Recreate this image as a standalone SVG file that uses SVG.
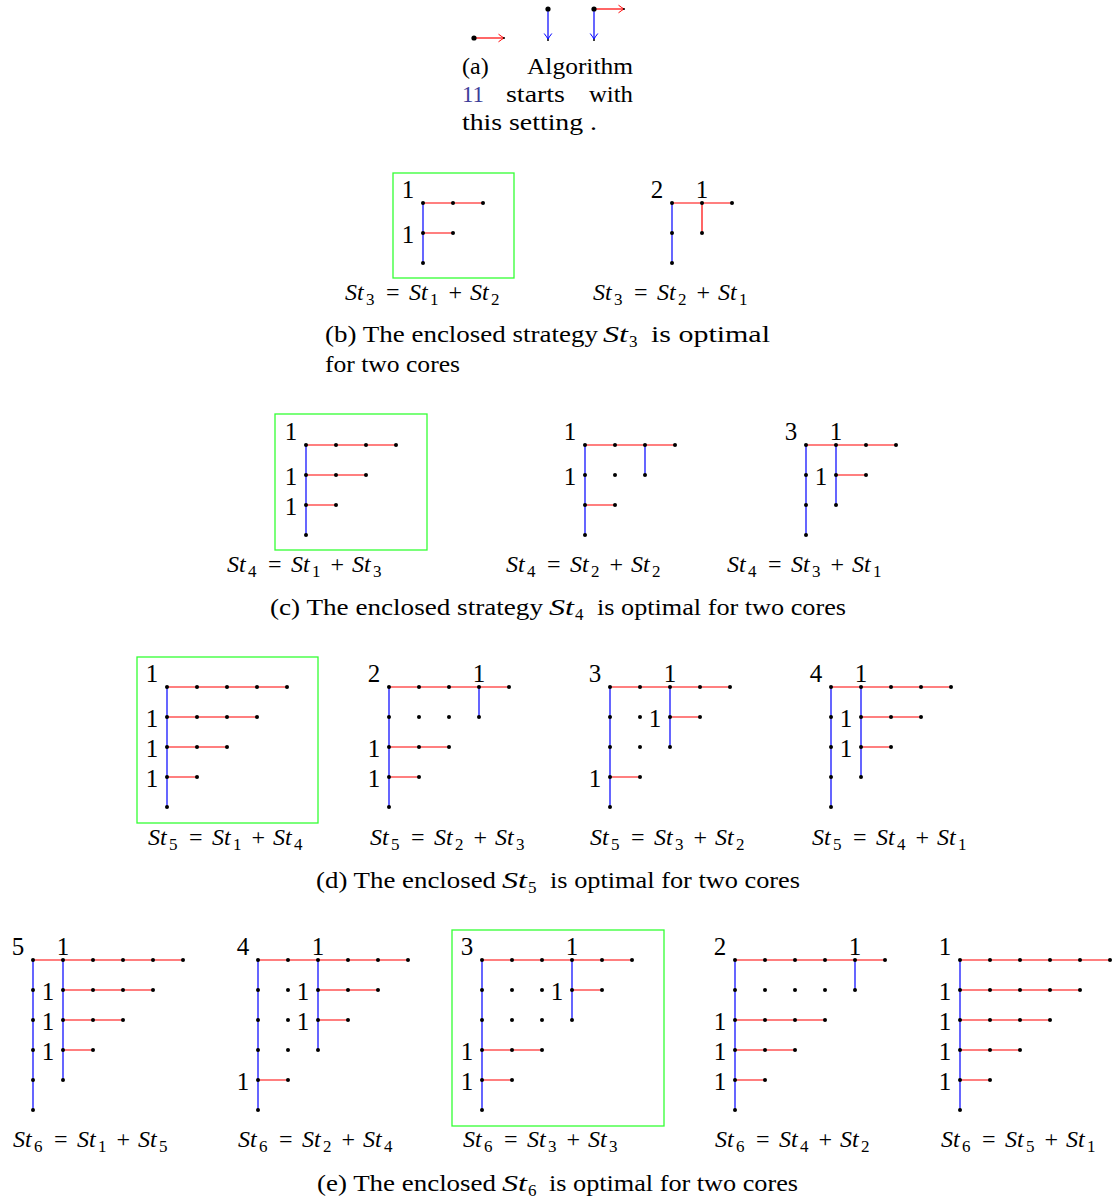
<svg xmlns="http://www.w3.org/2000/svg" width="1120" height="1200" viewBox="0 0 1120 1200" font-family="'Liberation Serif', 'Times New Roman', Tinos, 'DejaVu Serif', serif">
<style>
text{font-family:'Liberation Serif','Times New Roman',Tinos,'DejaVu Serif',serif}
.t{font-size:24px;fill:#000}
.i{font-style:italic}
.s{font-size:17px}
.l{font-size:25px;text-anchor:middle;fill:#000}
.r{stroke:#f00;stroke-width:1.2;fill:none}
.b{stroke:#00f;stroke-width:1.2;fill:none}
.g{stroke:#3f3;stroke-width:1.3;fill:none}
.d circle{fill:#000}
</style>
<defs>
<marker id="ar" markerUnits="userSpaceOnUse" markerWidth="12" markerHeight="12" refX="0" refY="0" viewBox="-7 -6 8 12" orient="auto"><path d="M-5.5-3.8Q-1.5-0.8 0 0Q-1.5 0.8-5.5 3.8" fill="none" stroke="#f00" stroke-width="1"/></marker>
<marker id="ab" markerUnits="userSpaceOnUse" markerWidth="12" markerHeight="12" refX="0" refY="0" viewBox="-7 -6 8 12" orient="auto"><path d="M-5.5-3.8Q-1.5-0.8 0 0Q-1.5 0.8-5.5 3.8" fill="none" stroke="#00f" stroke-width="1"/></marker>
</defs>
<rect width="1120" height="1200" fill="#fff"/>

<!-- (a) -->
<g id="fig-a">
<g id="a-connectors">
<path class="r" d="M474 38H504" marker-end="url(#ar)" stroke-width="1"/>
<path class="b" d="M548 9V39" marker-end="url(#ab)" stroke-width="1"/>
<path class="b" d="M594 9V39" marker-end="url(#ab)" stroke-width="1"/>
<path class="r" d="M594 9H624" marker-end="url(#ar)" stroke-width="1"/>
</g>
<g class="d">
<circle cx="474" cy="38" r="2.6"/><circle cx="548" cy="9" r="2.6"/><circle cx="594" cy="9" r="2.6"/>
<circle cx="504" cy="38" r="1"/><circle cx="548" cy="40" r="1"/><circle cx="594" cy="40" r="1"/><circle cx="624" cy="9" r="1"/>
</g>
<text class="t" x="462" y="74">(a)</text>
<text class="t" x="527" y="74" textLength="106" lengthAdjust="spacingAndGlyphs">Algorithm</text>
<text class="t" x="462" y="102" style="fill:#3d3d99" textLength="22" lengthAdjust="spacingAndGlyphs">11</text>
<text class="t" x="506" y="102" textLength="59" lengthAdjust="spacingAndGlyphs">starts</text>
<text class="t" x="589" y="102" textLength="44" lengthAdjust="spacingAndGlyphs">with</text>
<text class="t" x="462" y="130" textLength="135" lengthAdjust="spacingAndGlyphs">this setting .</text>
</g>

<!-- (b) -->
<g id="fig-b1">
<rect class="g" x="393" y="173" width="121" height="105"/>
<g class="connectors"><path class="b" d="M423 203V263"/><path class="r" d="M423 203H483M423 233H453"/></g>
<g class="d"><circle cx="423" cy="203" r="2"/><circle cx="453" cy="203" r="2"/><circle cx="483" cy="203" r="2"/><circle cx="423" cy="233" r="2"/><circle cx="453" cy="233" r="2"/><circle cx="423" cy="263" r="2"/></g>
<text class="l" x="408" y="198">1</text><text class="l" x="408" y="243">1</text>
<text class="t" y="300"><tspan class="i" x="345">St</tspan><tspan class="s" x="366" dy="5">3</tspan><tspan x="386" dy="-5">=</tspan><tspan class="i" x="409">St</tspan><tspan class="s" x="430" dy="5">1</tspan><tspan x="448.6" dy="-5">+</tspan><tspan class="i" x="470">St</tspan><tspan class="s" x="491" dy="5">2</tspan></text>
</g>
<g id="fig-b2">
<g class="connectors"><path class="b" d="M672 203V263"/><path class="r" d="M672 203H732M702 203V233"/></g>
<g class="d"><circle cx="672" cy="203" r="2"/><circle cx="702" cy="203" r="2"/><circle cx="732" cy="203" r="2"/><circle cx="672" cy="233" r="2"/><circle cx="702" cy="233" r="2"/><circle cx="672" cy="263" r="2"/></g>
<text class="l" x="657" y="198">2</text><text class="l" x="702" y="198">1</text>
<text class="t" y="300"><tspan class="i" x="593">St</tspan><tspan class="s" x="614" dy="5">3</tspan><tspan x="634" dy="-5">=</tspan><tspan class="i" x="657">St</tspan><tspan class="s" x="678" dy="5">2</tspan><tspan x="696.6" dy="-5">+</tspan><tspan class="i" x="718">St</tspan><tspan class="s" x="739" dy="5">1</tspan></text>
</g>
<g id="caption-b">
<text class="t" x="325" y="342" textLength="273" lengthAdjust="spacingAndGlyphs">(b) The enclosed strategy</text>
<text class="t i" x="603" y="342" textLength="25" lengthAdjust="spacingAndGlyphs">St</text><text class="t s" x="629" y="347">3</text>
<text class="t" x="651" y="342" textLength="119" lengthAdjust="spacingAndGlyphs">is optimal</text>
<text class="t" x="325" y="372" textLength="135" lengthAdjust="spacingAndGlyphs">for two cores</text>
</g>

<!-- (c) -->
<g id="fig-c1">
<rect class="g" x="275" y="414" width="152" height="136"/>
<g class="connectors"><path class="b" d="M306 445V535"/><path class="r" d="M306 445H396M306 475H366M306 505H336"/></g>
<g class="d"><circle cx="306" cy="445" r="2"/><circle cx="336" cy="445" r="2"/><circle cx="366" cy="445" r="2"/><circle cx="396" cy="445" r="2"/><circle cx="306" cy="475" r="2"/><circle cx="336" cy="475" r="2"/><circle cx="366" cy="475" r="2"/><circle cx="306" cy="505" r="2"/><circle cx="336" cy="505" r="2"/><circle cx="306" cy="535" r="2"/></g>
<text class="l" x="291" y="440">1</text><text class="l" x="291" y="485">1</text><text class="l" x="291" y="515">1</text>
<text class="t" y="572"><tspan class="i" x="227">St</tspan><tspan class="s" x="248" dy="5">4</tspan><tspan x="268" dy="-5">=</tspan><tspan class="i" x="291">St</tspan><tspan class="s" x="312" dy="5">1</tspan><tspan x="330.6" dy="-5">+</tspan><tspan class="i" x="352">St</tspan><tspan class="s" x="373" dy="5">3</tspan></text>
</g>
<g id="fig-c2">
<g class="connectors"><path class="b" d="M585 445V535M645 445V475"/><path class="r" d="M585 445H675M585 505H615"/></g>
<g class="d"><circle cx="585" cy="445" r="2"/><circle cx="615" cy="445" r="2"/><circle cx="645" cy="445" r="2"/><circle cx="675" cy="445" r="2"/><circle cx="585" cy="475" r="2"/><circle cx="615" cy="475" r="2"/><circle cx="645" cy="475" r="2"/><circle cx="585" cy="505" r="2"/><circle cx="615" cy="505" r="2"/><circle cx="585" cy="535" r="2"/></g>
<text class="l" x="570" y="440">1</text><text class="l" x="570" y="485">1</text>
<text class="t" y="572"><tspan class="i" x="506">St</tspan><tspan class="s" x="527" dy="5">4</tspan><tspan x="547" dy="-5">=</tspan><tspan class="i" x="570">St</tspan><tspan class="s" x="591" dy="5">2</tspan><tspan x="609.6" dy="-5">+</tspan><tspan class="i" x="631">St</tspan><tspan class="s" x="652" dy="5">2</tspan></text>
</g>
<g id="fig-c3">
<g class="connectors"><path class="b" d="M806 445V535M836 445V505"/><path class="r" d="M806 445H896M836 475H866"/></g>
<g class="d"><circle cx="806" cy="445" r="2"/><circle cx="836" cy="445" r="2"/><circle cx="866" cy="445" r="2"/><circle cx="896" cy="445" r="2"/><circle cx="806" cy="475" r="2"/><circle cx="836" cy="475" r="2"/><circle cx="866" cy="475" r="2"/><circle cx="806" cy="505" r="2"/><circle cx="836" cy="505" r="2"/><circle cx="806" cy="535" r="2"/></g>
<text class="l" x="791" y="440">3</text><text class="l" x="836" y="440">1</text><text class="l" x="821" y="485">1</text>
<text class="t" y="572"><tspan class="i" x="727">St</tspan><tspan class="s" x="748" dy="5">4</tspan><tspan x="768" dy="-5">=</tspan><tspan class="i" x="791">St</tspan><tspan class="s" x="812" dy="5">3</tspan><tspan x="830.6" dy="-5">+</tspan><tspan class="i" x="852">St</tspan><tspan class="s" x="873" dy="5">1</tspan></text>
</g>
<g id="caption-c">
<text class="t" x="270" y="615" textLength="273" lengthAdjust="spacingAndGlyphs">(c) The enclosed strategy</text>
<text class="t i" x="549" y="615" textLength="25" lengthAdjust="spacingAndGlyphs">St</text><text class="t s" x="575" y="620">4</text>
<text class="t" x="597" y="615" textLength="249" lengthAdjust="spacingAndGlyphs">is optimal for two cores</text>
</g>

<!-- (d) -->
<g id="fig-d1">
<rect class="g" x="137" y="657" width="181" height="166"/>
<g class="connectors"><path class="b" d="M167 687V807"/><path class="r" d="M167 687H287M167 717H257M167 747H227M167 777H197"/></g>
<g class="d"><circle cx="167" cy="687" r="2"/><circle cx="197" cy="687" r="2"/><circle cx="227" cy="687" r="2"/><circle cx="257" cy="687" r="2"/><circle cx="287" cy="687" r="2"/><circle cx="167" cy="717" r="2"/><circle cx="197" cy="717" r="2"/><circle cx="227" cy="717" r="2"/><circle cx="257" cy="717" r="2"/><circle cx="167" cy="747" r="2"/><circle cx="197" cy="747" r="2"/><circle cx="227" cy="747" r="2"/><circle cx="167" cy="777" r="2"/><circle cx="197" cy="777" r="2"/><circle cx="167" cy="807" r="2"/></g>
<text class="l" x="152" y="682">1</text><text class="l" x="152" y="727">1</text><text class="l" x="152" y="757">1</text><text class="l" x="152" y="787">1</text>
<text class="t" y="845"><tspan class="i" x="148">St</tspan><tspan class="s" x="169" dy="5">5</tspan><tspan x="189" dy="-5">=</tspan><tspan class="i" x="212">St</tspan><tspan class="s" x="233" dy="5">1</tspan><tspan x="251.6" dy="-5">+</tspan><tspan class="i" x="273">St</tspan><tspan class="s" x="294" dy="5">4</tspan></text>
</g>
<g id="fig-d2">
<g class="connectors"><path class="b" d="M389 687V807M479 687V717"/><path class="r" d="M389 687H509M389 747H449M389 777H419"/></g>
<g class="d"><circle cx="389" cy="687" r="2"/><circle cx="419" cy="687" r="2"/><circle cx="449" cy="687" r="2"/><circle cx="479" cy="687" r="2"/><circle cx="509" cy="687" r="2"/><circle cx="389" cy="717" r="2"/><circle cx="419" cy="717" r="2"/><circle cx="449" cy="717" r="2"/><circle cx="479" cy="717" r="2"/><circle cx="389" cy="747" r="2"/><circle cx="419" cy="747" r="2"/><circle cx="449" cy="747" r="2"/><circle cx="389" cy="777" r="2"/><circle cx="419" cy="777" r="2"/><circle cx="389" cy="807" r="2"/></g>
<text class="l" x="374" y="682">2</text><text class="l" x="479" y="682">1</text><text class="l" x="374" y="757">1</text><text class="l" x="374" y="787">1</text>
<text class="t" y="845"><tspan class="i" x="370">St</tspan><tspan class="s" x="391" dy="5">5</tspan><tspan x="411" dy="-5">=</tspan><tspan class="i" x="434">St</tspan><tspan class="s" x="455" dy="5">2</tspan><tspan x="473.6" dy="-5">+</tspan><tspan class="i" x="495">St</tspan><tspan class="s" x="516" dy="5">3</tspan></text>
</g>
<g id="fig-d3">
<g class="connectors"><path class="b" d="M610 687V807M670 687V747"/><path class="r" d="M610 687H730M670 717H700M610 777H640"/></g>
<g class="d"><circle cx="610" cy="687" r="2"/><circle cx="640" cy="687" r="2"/><circle cx="670" cy="687" r="2"/><circle cx="700" cy="687" r="2"/><circle cx="730" cy="687" r="2"/><circle cx="610" cy="717" r="2"/><circle cx="640" cy="717" r="2"/><circle cx="670" cy="717" r="2"/><circle cx="700" cy="717" r="2"/><circle cx="610" cy="747" r="2"/><circle cx="640" cy="747" r="2"/><circle cx="670" cy="747" r="2"/><circle cx="610" cy="777" r="2"/><circle cx="640" cy="777" r="2"/><circle cx="610" cy="807" r="2"/></g>
<text class="l" x="595" y="682">3</text><text class="l" x="670" y="682">1</text><text class="l" x="655" y="727">1</text><text class="l" x="595" y="787">1</text>
<text class="t" y="845"><tspan class="i" x="590">St</tspan><tspan class="s" x="611" dy="5">5</tspan><tspan x="631" dy="-5">=</tspan><tspan class="i" x="654">St</tspan><tspan class="s" x="675" dy="5">3</tspan><tspan x="693.6" dy="-5">+</tspan><tspan class="i" x="715">St</tspan><tspan class="s" x="736" dy="5">2</tspan></text>
</g>
<g id="fig-d4">
<g class="connectors"><path class="b" d="M831 687V807M861 687V777"/><path class="r" d="M831 687H951M861 717H921M861 747H891"/></g>
<g class="d"><circle cx="831" cy="687" r="2"/><circle cx="861" cy="687" r="2"/><circle cx="891" cy="687" r="2"/><circle cx="921" cy="687" r="2"/><circle cx="951" cy="687" r="2"/><circle cx="831" cy="717" r="2"/><circle cx="861" cy="717" r="2"/><circle cx="891" cy="717" r="2"/><circle cx="921" cy="717" r="2"/><circle cx="831" cy="747" r="2"/><circle cx="861" cy="747" r="2"/><circle cx="891" cy="747" r="2"/><circle cx="831" cy="777" r="2"/><circle cx="861" cy="777" r="2"/><circle cx="831" cy="807" r="2"/></g>
<text class="l" x="816" y="682">4</text><text class="l" x="861" y="682">1</text><text class="l" x="846" y="727">1</text><text class="l" x="846" y="757">1</text>
<text class="t" y="845"><tspan class="i" x="812">St</tspan><tspan class="s" x="833" dy="5">5</tspan><tspan x="853" dy="-5">=</tspan><tspan class="i" x="876">St</tspan><tspan class="s" x="897" dy="5">4</tspan><tspan x="915.6" dy="-5">+</tspan><tspan class="i" x="937">St</tspan><tspan class="s" x="958" dy="5">1</tspan></text>
</g>
<g id="caption-d">
<text class="t" x="316" y="888" textLength="180" lengthAdjust="spacingAndGlyphs">(d) The enclosed</text>
<text class="t i" x="502" y="888" textLength="25" lengthAdjust="spacingAndGlyphs">St</text><text class="t s" x="528" y="893">5</text>
<text class="t" x="550" y="888" textLength="250" lengthAdjust="spacingAndGlyphs">is optimal for two cores</text>
</g>

<!-- (e) -->
<g id="fig-e1">
<g class="connectors"><path class="b" d="M33 960V1110M63 960V1080"/><path class="r" d="M33 960H183M63 990H153M63 1020H123M63 1050H93"/></g>
<g class="d"><circle cx="33" cy="960" r="2"/><circle cx="63" cy="960" r="2"/><circle cx="93" cy="960" r="2"/><circle cx="123" cy="960" r="2"/><circle cx="153" cy="960" r="2"/><circle cx="183" cy="960" r="2"/><circle cx="33" cy="990" r="2"/><circle cx="63" cy="990" r="2"/><circle cx="93" cy="990" r="2"/><circle cx="123" cy="990" r="2"/><circle cx="153" cy="990" r="2"/><circle cx="33" cy="1020" r="2"/><circle cx="63" cy="1020" r="2"/><circle cx="93" cy="1020" r="2"/><circle cx="123" cy="1020" r="2"/><circle cx="33" cy="1050" r="2"/><circle cx="63" cy="1050" r="2"/><circle cx="93" cy="1050" r="2"/><circle cx="33" cy="1080" r="2"/><circle cx="63" cy="1080" r="2"/><circle cx="33" cy="1110" r="2"/></g>
<text class="l" x="18" y="955">5</text><text class="l" x="63" y="955">1</text><text class="l" x="48" y="1000">1</text><text class="l" x="48" y="1030">1</text><text class="l" x="48" y="1060">1</text>
<text class="t" y="1147"><tspan class="i" x="13">St</tspan><tspan class="s" x="34" dy="5">6</tspan><tspan x="54" dy="-5">=</tspan><tspan class="i" x="77">St</tspan><tspan class="s" x="98" dy="5">1</tspan><tspan x="116.6" dy="-5">+</tspan><tspan class="i" x="138">St</tspan><tspan class="s" x="159" dy="5">5</tspan></text>
</g>
<g id="fig-e2">
<g class="connectors"><path class="b" d="M258 960V1110M318 960V1050"/><path class="r" d="M258 960H408M318 990H378M318 1020H348M258 1080H288"/></g>
<g class="d"><circle cx="258" cy="960" r="2"/><circle cx="288" cy="960" r="2"/><circle cx="318" cy="960" r="2"/><circle cx="348" cy="960" r="2"/><circle cx="378" cy="960" r="2"/><circle cx="408" cy="960" r="2"/><circle cx="258" cy="990" r="2"/><circle cx="288" cy="990" r="2"/><circle cx="318" cy="990" r="2"/><circle cx="348" cy="990" r="2"/><circle cx="378" cy="990" r="2"/><circle cx="258" cy="1020" r="2"/><circle cx="288" cy="1020" r="2"/><circle cx="318" cy="1020" r="2"/><circle cx="348" cy="1020" r="2"/><circle cx="258" cy="1050" r="2"/><circle cx="288" cy="1050" r="2"/><circle cx="318" cy="1050" r="2"/><circle cx="258" cy="1080" r="2"/><circle cx="288" cy="1080" r="2"/><circle cx="258" cy="1110" r="2"/></g>
<text class="l" x="243" y="955">4</text><text class="l" x="318" y="955">1</text><text class="l" x="303" y="1000">1</text><text class="l" x="303" y="1030">1</text><text class="l" x="243" y="1090">1</text>
<text class="t" y="1147"><tspan class="i" x="238">St</tspan><tspan class="s" x="259" dy="5">6</tspan><tspan x="279" dy="-5">=</tspan><tspan class="i" x="302">St</tspan><tspan class="s" x="323" dy="5">2</tspan><tspan x="341.6" dy="-5">+</tspan><tspan class="i" x="363">St</tspan><tspan class="s" x="384" dy="5">4</tspan></text>
</g>
<g id="fig-e3">
<rect class="g" x="452" y="930" width="212" height="196"/>
<g class="connectors"><path class="b" d="M482 960V1110M572 960V1020"/><path class="r" d="M482 960H632M572 990H602M482 1050H542M482 1080H512"/></g>
<g class="d"><circle cx="482" cy="960" r="2"/><circle cx="512" cy="960" r="2"/><circle cx="542" cy="960" r="2"/><circle cx="572" cy="960" r="2"/><circle cx="602" cy="960" r="2"/><circle cx="632" cy="960" r="2"/><circle cx="482" cy="990" r="2"/><circle cx="512" cy="990" r="2"/><circle cx="542" cy="990" r="2"/><circle cx="572" cy="990" r="2"/><circle cx="602" cy="990" r="2"/><circle cx="482" cy="1020" r="2"/><circle cx="512" cy="1020" r="2"/><circle cx="542" cy="1020" r="2"/><circle cx="572" cy="1020" r="2"/><circle cx="482" cy="1050" r="2"/><circle cx="512" cy="1050" r="2"/><circle cx="542" cy="1050" r="2"/><circle cx="482" cy="1080" r="2"/><circle cx="512" cy="1080" r="2"/><circle cx="482" cy="1110" r="2"/></g>
<text class="l" x="467" y="955">3</text><text class="l" x="572" y="955">1</text><text class="l" x="557" y="1000">1</text><text class="l" x="467" y="1060">1</text><text class="l" x="467" y="1090">1</text>
<text class="t" y="1147"><tspan class="i" x="463">St</tspan><tspan class="s" x="484" dy="5">6</tspan><tspan x="504" dy="-5">=</tspan><tspan class="i" x="527">St</tspan><tspan class="s" x="548" dy="5">3</tspan><tspan x="566.6" dy="-5">+</tspan><tspan class="i" x="588">St</tspan><tspan class="s" x="609" dy="5">3</tspan></text>
</g>
<g id="fig-e4">
<g class="connectors"><path class="b" d="M735 960V1110M855 960V990"/><path class="r" d="M735 960H885M735 1020H825M735 1050H795M735 1080H765"/></g>
<g class="d"><circle cx="735" cy="960" r="2"/><circle cx="765" cy="960" r="2"/><circle cx="795" cy="960" r="2"/><circle cx="825" cy="960" r="2"/><circle cx="855" cy="960" r="2"/><circle cx="885" cy="960" r="2"/><circle cx="735" cy="990" r="2"/><circle cx="765" cy="990" r="2"/><circle cx="795" cy="990" r="2"/><circle cx="825" cy="990" r="2"/><circle cx="855" cy="990" r="2"/><circle cx="735" cy="1020" r="2"/><circle cx="765" cy="1020" r="2"/><circle cx="795" cy="1020" r="2"/><circle cx="825" cy="1020" r="2"/><circle cx="735" cy="1050" r="2"/><circle cx="765" cy="1050" r="2"/><circle cx="795" cy="1050" r="2"/><circle cx="735" cy="1080" r="2"/><circle cx="765" cy="1080" r="2"/><circle cx="735" cy="1110" r="2"/></g>
<text class="l" x="720" y="955">2</text><text class="l" x="855" y="955">1</text><text class="l" x="720" y="1030">1</text><text class="l" x="720" y="1060">1</text><text class="l" x="720" y="1090">1</text>
<text class="t" y="1147"><tspan class="i" x="715">St</tspan><tspan class="s" x="736" dy="5">6</tspan><tspan x="756" dy="-5">=</tspan><tspan class="i" x="779">St</tspan><tspan class="s" x="800" dy="5">4</tspan><tspan x="818.6" dy="-5">+</tspan><tspan class="i" x="840">St</tspan><tspan class="s" x="861" dy="5">2</tspan></text>
</g>
<g id="fig-e5">
<g class="connectors"><path class="b" d="M960 960V1110"/><path class="r" d="M960 960H1110M960 990H1080M960 1020H1050M960 1050H1020M960 1080H990"/></g>
<g class="d"><circle cx="960" cy="960" r="2"/><circle cx="990" cy="960" r="2"/><circle cx="1020" cy="960" r="2"/><circle cx="1050" cy="960" r="2"/><circle cx="1080" cy="960" r="2"/><circle cx="1110" cy="960" r="2"/><circle cx="960" cy="990" r="2"/><circle cx="990" cy="990" r="2"/><circle cx="1020" cy="990" r="2"/><circle cx="1050" cy="990" r="2"/><circle cx="1080" cy="990" r="2"/><circle cx="960" cy="1020" r="2"/><circle cx="990" cy="1020" r="2"/><circle cx="1020" cy="1020" r="2"/><circle cx="1050" cy="1020" r="2"/><circle cx="960" cy="1050" r="2"/><circle cx="990" cy="1050" r="2"/><circle cx="1020" cy="1050" r="2"/><circle cx="960" cy="1080" r="2"/><circle cx="990" cy="1080" r="2"/><circle cx="960" cy="1110" r="2"/></g>
<text class="l" x="945" y="955">1</text><text class="l" x="945" y="1000">1</text><text class="l" x="945" y="1030">1</text><text class="l" x="945" y="1060">1</text><text class="l" x="945" y="1090">1</text>
<text class="t" y="1147"><tspan class="i" x="941">St</tspan><tspan class="s" x="962" dy="5">6</tspan><tspan x="982" dy="-5">=</tspan><tspan class="i" x="1005">St</tspan><tspan class="s" x="1026" dy="5">5</tspan><tspan x="1044.6" dy="-5">+</tspan><tspan class="i" x="1066">St</tspan><tspan class="s" x="1087" dy="5">1</tspan></text>
</g>
<g id="caption-e">
<text class="t" x="317" y="1191" textLength="179" lengthAdjust="spacingAndGlyphs">(e) The enclosed</text>
<text class="t i" x="502" y="1191" textLength="25" lengthAdjust="spacingAndGlyphs">St</text><text class="t s" x="528" y="1196">6</text>
<text class="t" x="549" y="1191" textLength="249" lengthAdjust="spacingAndGlyphs">is optimal for two cores</text>
</g>
</svg>
